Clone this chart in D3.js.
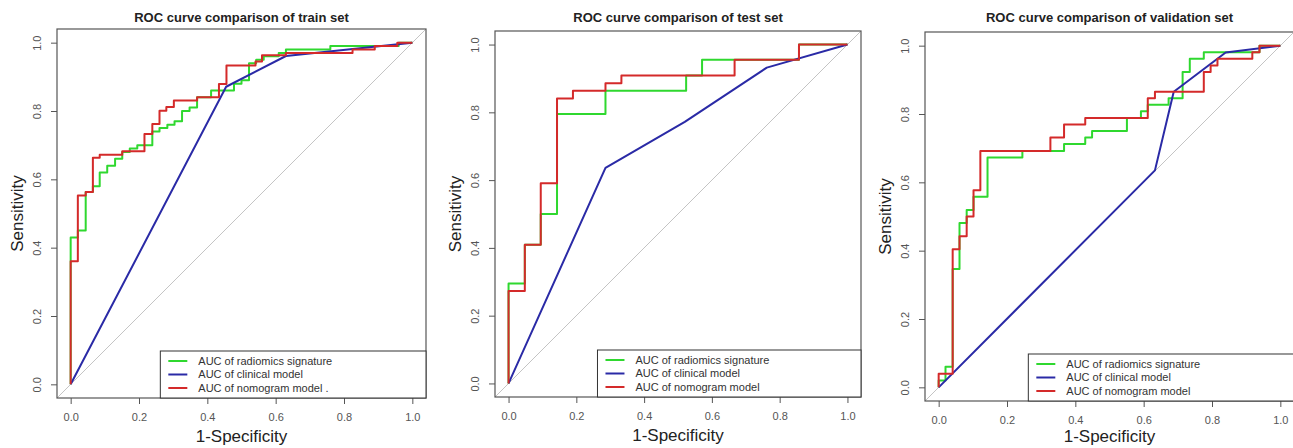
<!DOCTYPE html>
<html>
<head>
<meta charset="utf-8">
<script src="https://cdn.jsdelivr.net/npm/d3@7"></script>
<style>
body { margin: 0; background: #fff; }
</style>
</head>
<body>
<div id="chart"></div>
<script>
var w = 1293;
var h = 448;

// values: [1-specificity, sensitivity]
var trainRadiomics = [[0,0],[0,0.43],[0.021,0.45],[0.044,0.563],[0.065,0.58],[0.085,0.62],[0.107,0.64],[0.13,0.66],[0.151,0.68],[0.173,0.69],[0.195,0.70],[0.239,0.74],[0.26,0.75],[0.283,0.76],[0.304,0.77],[0.326,0.80],[0.348,0.81],[0.37,0.84],[0.411,0.86],[0.478,0.88],[0.50,0.89],[0.522,0.94],[0.543,0.95],[0.565,0.96],[0.609,0.97],[0.63,0.98],[0.76,0.99],[0.96,1],[1,1]];
var trainClinical = [[0,0],[0.455,0.871],[0.63,0.961],[1,1]];
var trainNomogram = [[0,0],[0,0.36],[0.021,0.553],[0.044,0.563],[0.065,0.663],[0.085,0.672],[0.151,0.682],[0.216,0.733],[0.239,0.762],[0.26,0.801],[0.28,0.812],[0.302,0.831],[0.37,0.84],[0.434,0.879],[0.456,0.933],[0.541,0.945],[0.56,0.963],[0.63,0.97],[0.825,0.98],[0.89,0.99],[0.956,1],[1,1]];

var testRadiomics = [[0,0],[0,0.295],[0.048,0.409],[0.095,0.5],[0.143,0.795],[0.286,0.864],[0.524,0.909],[0.571,0.955],[0.857,1],[1,1]];
var testClinical = [[0,0],[0.286,0.636],[0.52,0.772],[0.762,0.932],[1,1]];
var testNomogram = [[0,0],[0,0.273],[0.048,0.409],[0.095,0.591],[0.143,0.841],[0.19,0.864],[0.286,0.886],[0.333,0.909],[0.667,0.955],[0.857,1],[1,1]];

var valRadiomics = [[0,0],[0,0.02],[0.02,0.06],[0.041,0.346],[0.061,0.481],[0.082,0.519],[0.102,0.558],[0.143,0.673],[0.245,0.692],[0.367,0.712],[0.429,0.731],[0.449,0.75],[0.551,0.788],[0.592,0.808],[0.612,0.827],[0.673,0.846],[0.714,0.923],[0.735,0.962],[0.776,0.981],[0.939,1],[1,1]];
var valClinical = [[0,0],[0.633,0.635],[0.688,0.865],[0.84,0.98],[1,1]];
var valNomogram = [[0,0],[0,0.04],[0.041,0.404],[0.061,0.442],[0.082,0.5],[0.102,0.577],[0.122,0.692],[0.327,0.731],[0.367,0.769],[0.429,0.788],[0.612,0.846],[0.633,0.865],[0.776,0.923],[0.796,0.942],[0.816,0.962],[0.918,0.981],[0.939,1],[1,1]];

var titles = ["ROC curve comparison of train set", "ROC curve comparison of test set", "ROC curve comparison of validation set"];
var legendLabels = [
  ["AUC of radiomics signature", "AUC of clinical model", "AUC of nomogram model ."],
  ["AUC of radiomics signature", "AUC of clinical model", "AUC of nomogram model"],
  ["AUC of radiomics signature", "AUC of clinical model", "AUC of nomogram model"]
];
var ticks = [0, 0.2, 0.4, 0.6, 0.8, 1.0];
var colors = ["#2fd82f", "#2a2aa6", "#d42a2a"];

var panels = [
  {left: 57, top: 29, size: 369, xlab: 38, series: [trainRadiomics, trainClinical, trainNomogram]},
  {left: 495, top: 31, size: 366, xlab: 38, series: [testRadiomics, testClinical, testNomogram]},
  {left: 925, top: 32, size: 369, xlab: 35, series: [valRadiomics, valClinical, valNomogram]}
];

var font = "'Liberation Sans', Arial, sans-serif";

var svg = d3.select("#chart")
            .append("svg")
            .attr("width", w)
            .attr("height", h)
            .style("font-family", font);

panels.forEach(function(p, i) {
  var bottom = p.top + p.size;
  var x = d3.scaleLinear().domain([-0.04, 1.04]).range([p.left, p.left + p.size]);
  var y = d3.scaleLinear().domain([-0.04, 1.04]).range([bottom, p.top]);
  var g = svg.append("g");

  //reference diagonal
  g.append("line")
    .attr("x1", x(-0.04)).attr("y1", y(-0.04))
    .attr("x2", x(1.04)).attr("y2", y(1.04))
    .attr("stroke", "#c4c4c4")
    .attr("stroke-width", 1);

  var step = d3.line().x(function(d) { return x(d[0]); }).y(function(d) { return y(d[1]); }).curve(d3.curveStepAfter);
  var straight = d3.line().x(function(d) { return x(d[0]); }).y(function(d) { return y(d[1]); });

  p.series.forEach(function(s, k) {
    g.append("path")
      .datum(s)
      .attr("d", k == 1 ? straight : step)
      .attr("fill", "none")
      .attr("stroke", colors[k])
      .attr("stroke-width", 2)
      .attr("stroke-linejoin", "round");
  });

  g.append("rect")
    .attr("x", p.left).attr("y", p.top)
    .attr("width", p.size).attr("height", p.size)
    .attr("fill", "none")
    .attr("stroke", "#555")
    .attr("stroke-width", 1.2);

  var xAxis = g.append("g")
    .attr("transform", "translate(0," + bottom + ")")
    .call(d3.axisBottom(x).tickValues(ticks).tickSize(6).tickPadding(9).tickFormat(d3.format(".1f")));
  xAxis.select(".domain").remove();
  xAxis.selectAll("line").attr("stroke", "#555");
  xAxis.selectAll("text").attr("fill", "#555").style("font-size", "11px").style("font-family", font);

  var yAxis = g.append("g")
    .attr("transform", "translate(" + p.left + ",0)")
    .call(d3.axisLeft(y).tickValues(ticks).tickSize(6).tickFormat(d3.format(".1f")));
  yAxis.select(".domain").remove();
  yAxis.selectAll("line").attr("stroke", "#555");
  yAxis.selectAll("text")
    .attr("x", 0).attr("y", 0).attr("dy", "0.35em")
    .attr("text-anchor", "middle")
    .attr("transform", "translate(-20,0) rotate(-90)")
    .attr("fill", "#555").style("font-size", "11px").style("font-family", font);

  g.append("text")
    .attr("x", p.left + p.size / 2).attr("y", 17).attr("dy", "0.35em")
    .attr("text-anchor", "middle")
    .style("font-size", "13px").style("font-weight", "bold")
    .attr("fill", "#222")
    .text(titles[i]);

  g.append("text")
    .attr("x", p.left + p.size / 2).attr("y", bottom + p.xlab).attr("dy", "0.35em")
    .attr("text-anchor", "middle")
    .style("font-size", "17px")
    .attr("fill", "#222")
    .text("1-Specificity");

  g.append("text")
    .attr("transform", "translate(" + (p.left - 40) + "," + (p.top + p.size / 2) + ") rotate(-90)")
    .attr("dy", "0.35em")
    .attr("text-anchor", "middle")
    .style("font-size", "17px")
    .attr("fill", "#222")
    .text("Sensitivity");

  //legend in the bottom right corner
  var lx = p.left + p.size * 0.28;
  var ly = bottom - 47;
  var leg = g.append("g");
  leg.append("rect")
    .attr("x", lx).attr("y", ly)
    .attr("width", p.left + p.size - lx).attr("height", 47)
    .attr("fill", "white")
    .attr("stroke", "#333")
    .attr("stroke-width", 1);
  legendLabels[i].forEach(function(lab, k) {
    var ry = ly + 10 + k * 13.5;
    leg.append("line")
      .attr("x1", lx + 8).attr("x2", lx + 27)
      .attr("y1", ry).attr("y2", ry)
      .attr("stroke", colors[k]).attr("stroke-width", 2);
    leg.append("text")
      .attr("x", lx + 38).attr("y", ry).attr("dy", "0.35em")
      .style("font-size", "11px")
      .attr("fill", "#333")
      .text(lab);
  });
});
</script>
</body>
</html>
